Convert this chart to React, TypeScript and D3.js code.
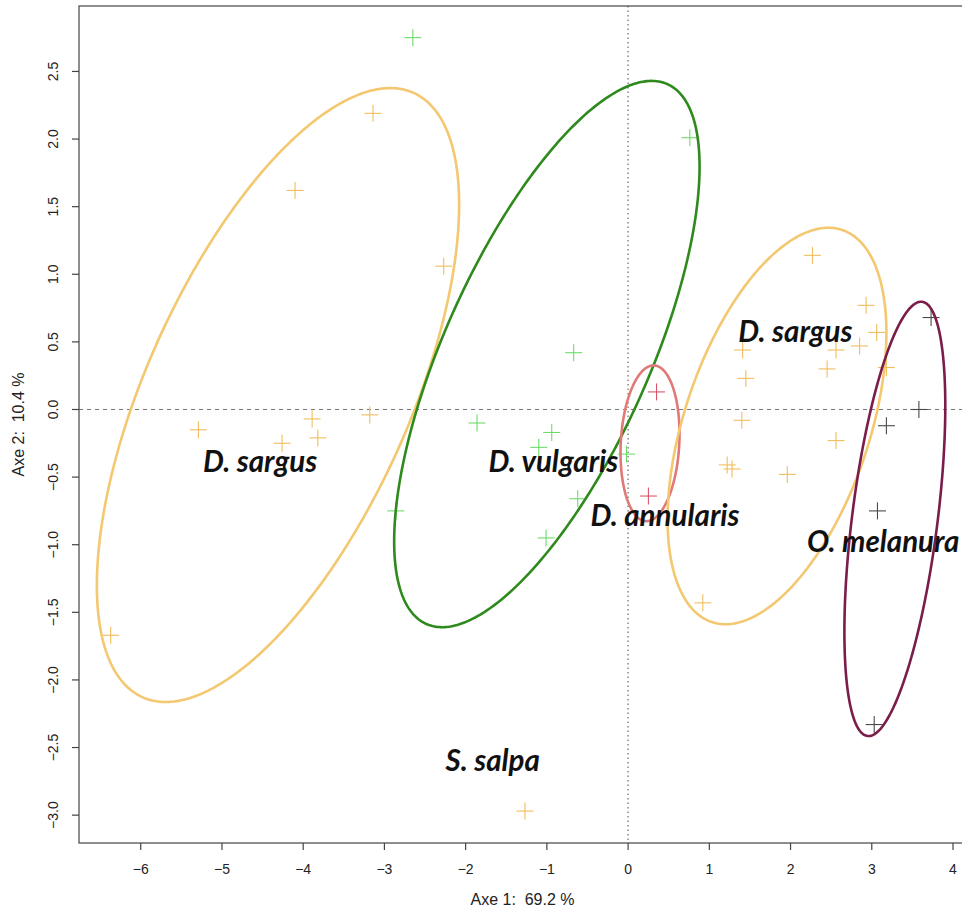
import React from 'react';
import * as d3 from 'd3';

// PCA scores (Axe 1, Axe 2)
const sargusPts: [number, number][] = [
  [-3.14, 2.19], [-4.10, 1.62], [-2.27, 1.06], [-6.37, -1.67], [-5.29, -0.15],
  [-3.89, -0.07], [-3.82, -0.21], [-4.26, -0.25], [-3.18, -0.04],
  [2.27, 1.14], [2.93, 0.77], [3.06, 0.57], [1.41, 0.44], [2.56, 0.44],
  [2.85, 0.47], [2.45, 0.30], [1.45, 0.23], [3.18, 0.31], [1.40, -0.08],
  [2.56, -0.23], [1.96, -0.48], [1.22, -0.41], [1.28, -0.44], [0.92, -1.43],
  [-1.27, -2.97],
];
const vulgarisPts: [number, number][] = [
  [-2.65, 2.75], [0.76, 2.01], [-0.67, 0.42], [-1.86, -0.10], [-0.94, -0.17],
  [-1.10, -0.28], [-0.02, -0.33], [-0.62, -0.66], [-2.86, -0.75], [-1.01, -0.95],
];
const annularisPts: [number, number][] = [[0.35, 0.13], [0.25, -0.64]];
const melanuraPts: [number, number][] = [
  [3.73, 0.68], [3.58, 0.0], [3.18, -0.12], [3.07, -0.75], [3.03, -2.33],
];

// ellipses: centre, half-extent on each axis, correlation
const ellipses = [
  { name: 'sargusA', cx: -4.31, cy: 0.107, rx: 2.23, ry: 2.27, rho: 0.62, color: '#F3C870' },
  { name: 'vulgaris', cx: -1.0, cy: 0.41, rx: 1.88, ry: 2.02, rho: 0.686, color: '#2E8A1C' },
  { name: 'annularis', cx: 0.27, cy: -0.25, rx: 0.363, ry: 0.576, rho: 0.12, color: '#E07A78' },
  { name: 'sargusB', cx: 1.833, cy: -0.122, rx: 1.347, ry: 1.466, rho: 0.47, color: '#F3C870' },
  { name: 'melanura', cx: 3.284, cy: -0.809, rx: 0.621, ry: 1.606, rho: 0.52, color: '#7A1D4A' },
];

const groups = [
  { pts: sargusPts, color: '#F0BE5E' },
  { pts: vulgarisPts, color: '#6EDC6A' },
  { pts: annularisPts, color: '#D9566A' },
  { pts: melanuraPts, color: '#4A4A4A' },
];

const labels = [
  { text: 'D. sargus', x: -4.53, y: -0.465 },
  { text: 'D. vulgaris', x: -0.92, y: -0.465 },
  { text: 'D. annularis', x: 0.455, y: -0.864 },
  { text: 'D. sargus', x: 2.06, y: 0.5 },
  { text: 'O. melanura', x: 3.14, y: -1.056 },
  { text: 'S. salpa', x: -1.667, y: -2.67 },
];

const xTicks = [-6, -5, -4, -3, -2, -1, 0, 1, 2, 3, 4];
const yTicks = [2.5, 2.0, 1.5, 1.0, 0.5, 0.0, -0.5, -1.0, -1.5, -2.0, -2.5, -3.0];

const W = 962;
const H = 911;
const plot = { left: 79, top: 6, right: 966, bottom: 843 };

const x = d3.scaleLinear().domain([-6.76, 4.16]).range([plot.left, plot.right]);
const y = d3.scaleLinear().domain([-3.206, 2.984]).range([plot.bottom, plot.top]);

const fmtNum = (v: number, dec: number) => v.toFixed(dec).replace('-', '\u2212');

const App: React.FC = () => {
  const ellipsePath = (e: typeof ellipses[number]) => {
    const phi = Math.acos(e.rho);
    const pts = d3.range(0, 2 * Math.PI, Math.PI / 180).map(t => [
      e.cx + e.rx * Math.cos(t),
      e.cy + e.ry * Math.cos(t - phi),
    ] as [number, number]);
    return d3.line<[number, number]>()
      .x(d => x(d[0]))
      .y(d => y(d[1]))
      .curve(d3.curveLinearClosed)(pts) || '';
  };

  const cross = 8.5;
  const axisFont = '"Liberation Sans", Arial, sans-serif';

  return (
    <svg width={W} height={H} style={{ position: 'absolute', left: 0, top: 0, background: '#fff' }}>
      {/* reference lines */}
      <line x1={plot.left} x2={plot.right} y1={y(0)} y2={y(0)} stroke="#777" strokeWidth={1} strokeDasharray="4,4" />
      <line x1={x(0)} x2={x(0)} y1={plot.top} y2={plot.bottom} stroke="#888" strokeWidth={1.5} strokeDasharray="1.5,3" />

      {/* points */}
      {groups.map((g, gi) => (
        <g key={gi} stroke={g.color} strokeWidth={1.1}>
          {g.pts.map((p, i) => (
            <g key={i}>
              <line x1={x(p[0]) - cross} x2={x(p[0]) + cross} y1={y(p[1])} y2={y(p[1])} />
              <line x1={x(p[0])} x2={x(p[0])} y1={y(p[1]) - cross} y2={y(p[1]) + cross} />
            </g>
          ))}
        </g>
      ))}

      {/* ellipses */}
      {ellipses.map(e => (
        <path key={e.name} d={ellipsePath(e)} fill="none" stroke={e.color} strokeWidth={2.6} />
      ))}

      {/* group labels */}
      {labels.map((l, i) => (
        <text
          key={i}
          x={x(l.x)}
          y={y(l.y)}
          textAnchor="middle"
          fontFamily="Lato, 'Open Sans', sans-serif"
          fontStyle="italic"
          fontWeight={700}
          fontSize={29.5}
          fill="#111"
        >
          {l.text}
        </text>
      ))}

      {/* box */}
      <rect x={plot.left} y={plot.top} width={plot.right - plot.left} height={plot.bottom - plot.top}
        fill="none" stroke="#444" strokeWidth={1.2} />

      {/* x axis */}
      {xTicks.map(t => (
        <g key={t}>
          <line x1={x(t)} x2={x(t)} y1={plot.bottom} y2={plot.bottom + 7} stroke="#444" strokeWidth={1.2} />
          <text x={x(t)} y={874} textAnchor="middle" fontFamily={axisFont} fontSize={14} fill="#222">
            {fmtNum(t, 0)}
          </text>
        </g>
      ))}
      {/* y axis */}
      {yTicks.map(t => (
        <g key={t}>
          <line x1={plot.left - 7} x2={plot.left} y1={y(t)} y2={y(t)} stroke="#444" strokeWidth={1.2} />
          <text transform={`translate(58,${y(t)}) rotate(-90)`} textAnchor="middle" fontFamily={axisFont}
            fontSize={14} fill="#222">
            {fmtNum(t, 1)}
          </text>
        </g>
      ))}

      <text x={(plot.left + plot.right) / 2} y={905} textAnchor="middle" fontFamily={axisFont} fontSize={16}
        fill="#222" style={{ whiteSpace: 'pre' }}>
        {'Axe 1:  69.2 %'}
      </text>
      <text transform={`translate(24,${(plot.top + plot.bottom) / 2}) rotate(-90)`} textAnchor="middle"
        fontFamily={axisFont} fontSize={16} fill="#222" style={{ whiteSpace: 'pre' }}>
        {'Axe 2:  10.4 %'}
      </text>
    </svg>
  );
};

export default App;
